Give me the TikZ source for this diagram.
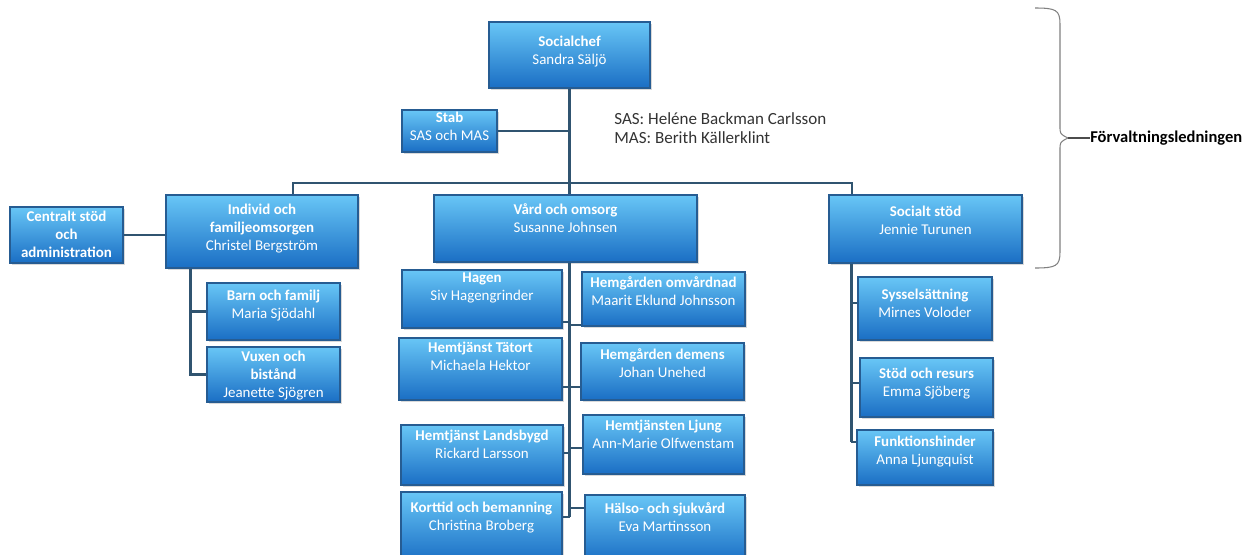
\documentclass[tikz,border=0pt]{standalone}
\usepackage{fontspec}
\setmainfont{Carlito}
\definecolor{orgtop}{RGB}{104,198,246}
\definecolor{orgbot}{RGB}{26,110,196}
\definecolor{orgedge}{RGB}{38,92,146}
\definecolor{orgline}{RGB}{48,84,112}
\usetikzlibrary{positioning, fit, calc, shadows}

\begin{document}
\begin{tikzpicture}[x=0.02cm, y=-0.02cm,
  b/.style={draw=orgedge, line width=0.6pt, top color=orgtop, bottom color=orgbot, inner sep=0pt,
    drop shadow={shadow xshift=1.2pt, shadow yshift=-1.2pt, opacity=0.3}},
  t/.style={font=\fontsize{8.5}{10.2}\selectfont, text=white, align=center, inner sep=0pt},
  c/.style={orgline, line width=1.3pt},
]
  \useasboundingbox (0,0) rectangle (1259,555);

  \node[b, fit={(489,22) (650,88)}] (chef) {};
  \node[b, fit={(402,110) (497,152)}] (stab) {};
  \node[b, fit={(10,207) (123,263)}] (central) {};
  \node[b, fit={(166,195) (358,268)}] (indiv) {};
  \node[b, fit={(434,195) (697,262)}] (vard) {};
  \node[b, fit={(829,195) (1022,263)}] (socst) {};

  \node[b, fit={(207,283) (340,340)}] (barn) {};
  \node[b, fit={(207,347) (340,402)}] (vuxen) {};

  \node[b, fit={(402,270) (562,328)}] (hagen) {};
  \node[b, fit={(399,338) (562,400)}] (tatort) {};
  \node[b, fit={(401,425) (563,485)}] (landsb) {};
  \node[b, fit={(401,492) (562,562)}] (korttid) {};
  \node[b, fit={(582,272) (745,326)}] (omv) {};
  \node[b, fit={(581,343) (744,400)}] (demens) {};
  \node[b, fit={(583,415) (744,474)}] (ljung) {};
  \node[b, fit={(585,495) (745,562)}] (halso) {};

  \node[b, fit={(858,277) (992,340)}] (syss) {};
  \node[b, fit={(860,358) (993,417)}] (resurs) {};
  \node[b, fit={(857,430) (993,485)}] (funk) {};

  \node[t, below=8pt of chef.north] {\textbf{Socialchef}\\Sandra Säljö};
  \node[t, below=1.5pt of stab.north] {\textbf{Stab}\\SAS och MAS};
  \node[t, below=2.5pt of central.north] {\textbf{Centralt stöd}\\\textbf{och}\\\textbf{administration}};
  \node[t, below=5.2pt of indiv.north] {\textbf{Individ och}\\\textbf{familjeomsorgen}\\Christel Bergström};
  \node[t, below=5.2pt of vard.north] {\textbf{Vård och omsorg}\\Susanne Johnsen};
  \node[t, below=6.3pt of socst.north] {\textbf{Socialt stöd}\\Jennie Turunen};
  \node[t, below=4pt of barn.north] {\textbf{Barn och familj}\\Maria Sjödahl};
  \node[t, below=2.5pt of vuxen.north] {\textbf{Vuxen och}\\\textbf{bistånd}\\Jeanette Sjögren};
  \node[t, below=1.5pt of hagen.north] {\textbf{Hagen}\\Siv Hagengrinder};
  \node[t, below=2.5pt of tatort.north] {\textbf{Hemtjänst Tätort}\\Michaela Hektor};
  \node[t, below=3pt of landsb.north] {\textbf{Hemtjänst Landsbygd}\\Rickard Larsson};
  \node[t, below=6pt of korttid.north] {\textbf{Korttid och bemanning}\\Christina Broberg};
  \node[t, below=3pt of omv.north] {\textbf{Hemgården omvårdnad}\\Maarit Eklund Johnsson};
  \node[t, below=3.6pt of demens.north] {\textbf{Hemgården demens}\\Johan Unehed};
  \node[t, below=3pt of ljung.north] {\textbf{Hemtjänsten Ljung}\\Ann-Marie Olfwenstam};
  \node[t, below=4.6pt of halso.north] {\textbf{Hälso- och sjukvård}\\Eva Martinsson};
  \node[t, below=7pt of syss.north] {\textbf{Sysselsättning}\\Mirnes Voloder};
  \node[t, below=6pt of resurs.north] {\textbf{Stöd och resurs}\\Emma Sjöberg};
  \node[t, below=3.6pt of funk.north] {\textbf{Funktionshinder}\\Anna Ljungquist};

  \node[anchor=west, align=left, inner sep=0pt, text=black!80, font=\fontsize{9.7}{10.8}\selectfont] (sas) at (614,128)
    {SAS: Heléne Backman Carlsson\\MAS: Berith Källerklint};
  \node[anchor=west, inner sep=0pt, font=\fontsize{9.4}{11}\selectfont\bfseries] (ledn) at (1090,138) {Förvaltningsledningen};

  \coordinate (busl) at (293,183);
  \coordinate (busr) at (852,183);
  \coordinate (isp) at ($(indiv.south west)+(25,0)$);
  \coordinate (vsp) at (vard.south -| chef.south);
  \coordinate (ssp) at ($(socst.south west)+(23,0)$);

  \draw[c] (chef.south) -- (chef.south |- vard.north);
  \draw[c] (stab.east) -- (stab.east -| chef.south);
  \draw[c] (indiv.north -| busl) |- (busr) -- (socst.north -| busr);
  \draw[c] (central.east) -- (central.east -| indiv.west);

  \draw[c] (isp) |- (barn.west);
  \draw[c] (isp) |- (vuxen.west);

  \draw[c] (vsp) -- (vsp |- 0,517);
  \foreach \n/\y in {hagen/322, tatort/387, landsb/453, korttid/517}
    \draw[c] (vsp |- 0,\y) -- (\n.east |- 0,\y);
  \foreach \n/\y in {omv/325, demens/387, ljung/448, halso/508}
    \draw[c] (vsp |- 0,\y) -- (\n.west |- 0,\y);

  \draw[c] (ssp) -- (ssp |- 0,442);
  \foreach \n/\y in {syss/303, resurs/383, funk/442}
    \draw[c] (ssp |- 0,\y) -- (\n.west |- 0,\y);

  \coordinate (tip) at (1068,138);
  \draw[gray, line width=0.6pt] (1035,8) .. controls (1056,8) and (1060,10) .. (1060,24) -- (1060,126)
    .. controls (1060,134) .. (tip) .. controls (1060,142) .. (1060,150) -- (1060,252)
    .. controls (1060,266) and (1056,268) .. (1035,268);
  \draw[black!70, line width=0.6pt] (tip) -- (ledn.west);
\end{tikzpicture}
\end{document}
